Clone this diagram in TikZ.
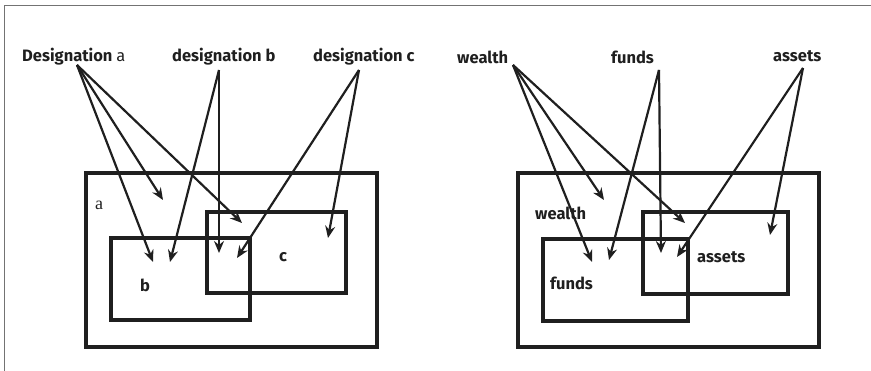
\documentclass[tikz,border=0pt]{standalone}
\usepackage{fontspec}
\setmainfont{Fira Sans}
\newfontfamily\serifa{Liberation Serif}
\usetikzlibrary{arrows.meta}
\begin{document}
\begin{tikzpicture}[x=1pt,y=-1pt,
  box/.style={draw=black!88,line width=3.3pt},
  arr/.style={draw=black!88,line width=2.2pt,-{Stealth[length=12pt,width=10pt,inset=4pt]}},
  lbl/.style={font=\fontsize{16.5}{18}\selectfont\bfseries,text=black!88,inner sep=0pt},
  frame/.style={draw=black!55,line width=0.9pt}]
\useasboundingbox (0,0) rectangle (871,371);
\draw[frame] (4,371) -- (4,5) -- (871,5);
% ---------- left panel ----------
\draw[box] (86,173) rectangle (377,347);
\draw[box] (207,212) rectangle (346,293);
\draw[box] (111,238) rectangle (250,320);
\node[lbl,anchor=west] (da) at (22,57) {Designation \mdseries a};
\node[lbl,anchor=west] (db) at (172,57) {designation b};
\node[lbl,anchor=west] (dc) at (313,57) {designation c};
\node[lbl] (la) at (99,205) {\serifa\mdseries\fontsize{18}{20}\selectfont a};
\node[lbl] (lc) at (283,257) {c};
\node[lbl] (lb) at (145,285) {b};
\coordinate (oa) at (77,65);
\coordinate (ob) at (219,70);
\coordinate (oc) at (359,70);
\coordinate (ta1) at (153,262);
\coordinate (ta2) at (163,200);
\coordinate (ta3) at (242,223);
\coordinate (tb1) at (170,262);
\coordinate (tb2) at (219,253);
\coordinate (tc1) at (237,258);
\coordinate (tc2) at (328,238);
\draw[arr] (oa) -- (ta1);
\draw[arr] (oa) -- (ta2);
\draw[arr] (oa) -- (ta3);
\draw[arr] (ob) -- (tb1);
\draw[arr] (ob) -- (tb2);
\draw[arr] (oc) -- (tc1);
\draw[arr] (oc) -- (tc2);
% ---------- right panel ----------
\draw[box] (518,173) rectangle (819,347);
\draw[box] (643,212) rectangle (788,294);
\draw[box] (543,239) rectangle (688,321);
\node[lbl,anchor=west] (w) at (457,57) {wealth};
\node[lbl,anchor=west] (f) at (611,57) {funds};
\node[lbl,anchor=west] (s) at (773,56) {assets};
\node[lbl,anchor=west] (lw) at (535,213) {wealth};
\node[lbl,anchor=west] (ls) at (697,257) {assets};
\node[lbl,anchor=west] (lf) at (550,283) {funds};
\coordinate (ow) at (513,65);
\coordinate (of) at (659,70);
\coordinate (os) at (803,68);
\coordinate (tw1) at (592,262);
\coordinate (tw2) at (604,200);
\coordinate (tw3) at (685,223);
\coordinate (tf1) at (609,260);
\coordinate (tf2) at (661,253);
\coordinate (ts1) at (677,257);
\coordinate (ts2) at (770,235);
\draw[arr] (ow) -- (tw1);
\draw[arr] (ow) -- (tw2);
\draw[arr] (ow) -- (tw3);
\draw[arr] (of) -- (tf1);
\draw[arr] (of) -- (tf2);
\draw[arr] (os) -- (ts1);
\draw[arr] (os) -- (ts2);
\end{tikzpicture}
\end{document}
